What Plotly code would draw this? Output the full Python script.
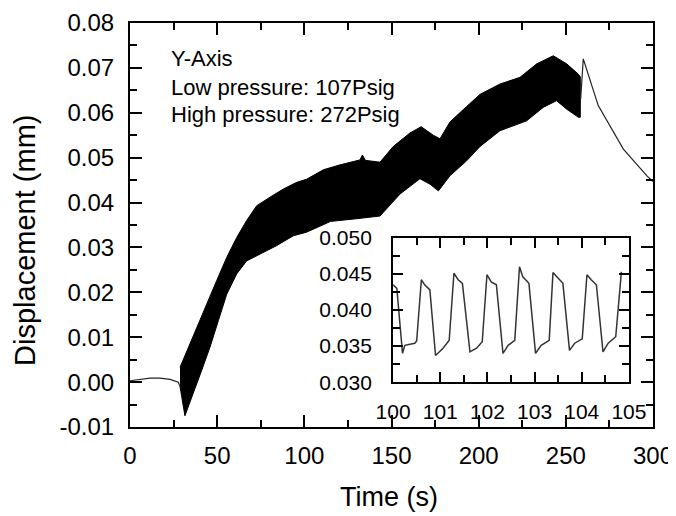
import plotly.graph_objects as go

# ---------------- data ----------------
# quiet line before oscillation starts
pre_t = [0, 5, 11.5, 17.2, 23.0, 27.7, 28.7]
pre_v = [0.0003, 0.0006, 0.0009, 0.0009, 0.0006, 0.0000, -0.0010]

# upper envelope of the oscillating band
up_t = [28.7, 33.5, 38.2, 44.0, 49.7, 55.5, 61.2, 66.9, 72.7, 80.3, 87.9, 95.6,
        101.3, 110.9, 120.5, 131.9, 133.3, 135.0, 143.4, 151.0, 160.6, 167.0,
        174.0, 177.8, 183.6, 193.1, 200.8, 212.2, 223.7, 233.3, 242.8, 250.5,
        257.2, 258.3]
up_v = [0.0033, 0.0078, 0.0122, 0.0174, 0.0226, 0.0278, 0.0322, 0.0360, 0.0393,
        0.0412, 0.0430, 0.0445, 0.0452, 0.0473, 0.0484, 0.0495, 0.0506, 0.0494,
        0.0490, 0.0525, 0.0555, 0.0569, 0.0550, 0.0542, 0.0580, 0.0614, 0.0641,
        0.0664, 0.0679, 0.0709, 0.0727, 0.0709, 0.0686, 0.0680]

# lower envelope of the oscillating band
lo_t = [28.7, 31.5, 36.3, 41.1, 45.9, 50.7, 55.5, 61.2, 66.9, 76.5, 84.1, 93.7,
        101.3, 115.0, 130.0, 143.4, 154.9, 166.3, 172.1, 176.9, 183.6, 193.1,
        200.8, 212.2, 227.5, 237.0, 244.7, 250.5, 257.2, 258.3]
lo_v = [-0.0010, -0.0075, -0.0026, 0.0026, 0.0078, 0.0137, 0.0196, 0.0241,
        0.0270, 0.0289, 0.0304, 0.0326, 0.0334, 0.0358, 0.0364, 0.0370, 0.0419,
        0.0453, 0.0441, 0.0426, 0.0460, 0.0493, 0.0525, 0.0560, 0.0582, 0.0612,
        0.0627, 0.0608, 0.0590, 0.0590]

# line after oscillation ends
post_t = [258.5, 260.0, 268.6, 283.0, 296.4, 300.0]
post_v = [0.0630, 0.0720, 0.0616, 0.0519, 0.0460, 0.0447]

# inset: zoom 100-105 s
inset_t = [100.0, 100.08, 100.2, 100.25, 100.46, 100.5, 100.6, 100.67, 100.78,
           100.9, 101.06, 101.19, 101.29, 101.38, 101.47, 101.63, 101.77, 101.89,
           101.99, 102.08, 102.19, 102.33, 102.44, 102.58, 102.68, 102.75, 102.88,
           103.02, 103.14, 103.31, 103.39, 103.5, 103.6, 103.74, 103.85, 104.01,
           104.11, 104.2, 104.31, 104.45, 104.56, 104.72, 104.84]
inset_v = [0.0435, 0.0430, 0.0340, 0.0351, 0.0354, 0.0357, 0.0442, 0.0435, 0.0428,
           0.0337, 0.0347, 0.0358, 0.0451, 0.0442, 0.0437, 0.0342, 0.0347, 0.0356,
           0.0449, 0.0439, 0.0435, 0.0340, 0.0351, 0.0358, 0.0460, 0.0446, 0.0437,
           0.0340, 0.0351, 0.0358, 0.0452, 0.0444, 0.0437, 0.0344, 0.0354, 0.0360,
           0.0449, 0.0442, 0.0435, 0.0342, 0.0354, 0.0363, 0.0453]

x_ticks = [0, 50, 100, 150, 200, 250, 300]
y_ticks = [-0.01, 0.00, 0.01, 0.02, 0.03, 0.04, 0.05, 0.06, 0.07, 0.08]
y_tick_text = ["-0.01", "0.00", "0.01", "0.02", "0.03", "0.04", "0.05", "0.06", "0.07", "0.08"]
ix_ticks = [100, 101, 102, 103, 104, 105]
iy_ticks = [0.030, 0.035, 0.040, 0.045, 0.050]
iy_tick_text = ["0.030", "0.035", "0.040", "0.045", "0.050"]

info_lines = ["Y-Axis", "Low pressure: 107Psig", "High pressure: 272Psig"]

# ---------------- figure ----------------
FONT = "Arial, Liberation Sans, Helvetica, sans-serif"
fig = go.Figure()

band_t = up_t + lo_t[::-1]
band_v = up_v + lo_v[::-1]
fig.add_trace(go.Scatter(x=band_t, y=band_v, fill="toself", fillcolor="black",
                         mode="lines", line=dict(color="black", width=1),
                         showlegend=False, hoverinfo="skip"))
fig.add_trace(go.Scatter(x=pre_t, y=pre_v, mode="lines",
                         line=dict(color="#222", width=1.2), showlegend=False))
fig.add_trace(go.Scatter(x=post_t, y=post_v, mode="lines",
                         line=dict(color="#222", width=1.2), showlegend=False))
fig.add_trace(go.Scatter(x=inset_t, y=inset_v, mode="lines", xaxis="x2", yaxis="y2",
                         line=dict(color="#333", width=1.5), showlegend=False))

axis_common = dict(showline=True, linecolor="black", linewidth=2, mirror="ticks",
                   ticks="inside", tickcolor="black", tickwidth=2, showgrid=False,
                   zeroline=False, automargin=False)

# the page body adds an 8px offset, margins compensate for it
fig.update_layout(
    width=676, height=516,
    margin=dict(l=122, r=31, t=15, b=97, autoexpand=False),
    paper_bgcolor="white", plot_bgcolor="white",
    font=dict(family=FONT, color="black"),
    xaxis=dict(range=[0, 300], tickvals=x_ticks, ticklen=12,
               tickfont=dict(size=24), ticklabelstandoff=6,
               minor=dict(dtick=25, ticklen=7, tickwidth=2, ticks="inside", tickcolor="black"),
               **axis_common),
    yaxis=dict(range=[-0.01, 0.08], tickvals=y_ticks, ticktext=y_tick_text, ticklen=12,
               tickfont=dict(size=24), ticklabelstandoff=9,
               minor=dict(dtick=0.005, tick0=0, ticklen=7, tickwidth=2, ticks="inside", tickcolor="black"),
               **axis_common),
    xaxis2=dict(domain=[0.503, 0.954], anchor="y2", range=[100, 105], tickvals=ix_ticks,
                ticklen=10, tickfont=dict(size=21), ticklabelstandoff=10,
                minor=dict(dtick=0.5, tick0=100, ticklen=7, tickwidth=2, ticks="inside", tickcolor="black"),
                **axis_common),
    yaxis2=dict(domain=[0.111, 0.468], anchor="x2", range=[0.030, 0.050], tickvals=iy_ticks,
                ticktext=iy_tick_text, ticklen=10, tickfont=dict(size=21), ticklabelstandoff=15,
                minor=dict(dtick=0.0025, tick0=0.03, ticklen=7, tickwidth=2, ticks="inside", tickcolor="black"),
                **axis_common),
)

annos = [
    dict(text="Time (s)", x=0.495, y=-0.173, xref="paper", yref="paper",
         showarrow=False, font=dict(size=27), xanchor="center", yanchor="middle"),
    dict(text="Displacement (mm)", x=-0.2008, y=0.463, xref="paper", yref="paper",
         showarrow=False, font=dict(size=29), textangle=-90, xanchor="center", yanchor="middle"),
]
info_y = [0.0720, 0.0657, 0.0596]
for txt, yy in zip(info_lines, info_y):
    annos.append(dict(text=txt, x=22.5, y=yy, xref="x", yref="y", showarrow=False,
                      font=dict(size=22), xanchor="left", yanchor="middle"))
fig.update_layout(annotations=annos)

fig.write_html("out.html")
